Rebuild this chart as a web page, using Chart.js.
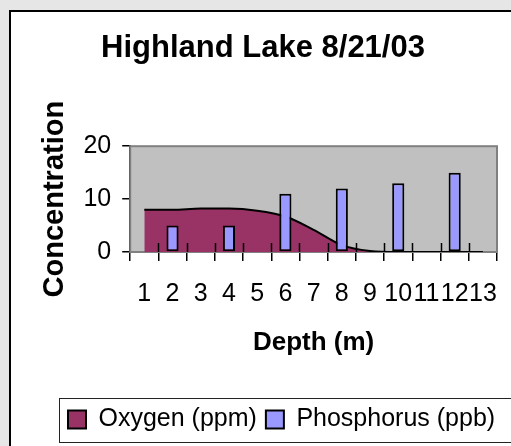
<!DOCTYPE html>
<html>
<head>
<meta charset="utf-8">
<script src="https://cdn.jsdelivr.net/npm/chart.js@4.4.1/dist/chart.umd.min.js"></script>
<style>
  html, body { margin: 0; padding: 0; background: #e6e6e6; overflow: hidden; }
  #frame { position: absolute; left: 9px; top: 10px; width: 520px; height: 450px;
           background: #fff; border-left: 2px solid #000; border-top: 2px solid #000; }
  #wrap { position: absolute; left: 0; top: 0; width: 511px; height: 446px; }
</style>
</head>
<body>
<div id="frame"></div>
<div id="wrap"><canvas id="myChart"></canvas></div>
<script>
/* Data */
var depths = ['1', '2', '3', '4', '5', '6', '7', '8', '9', '10', '11', '12', '13'];
var oxygen = [8, 8, 8.2, 8.2, 7.8, 6.7, 4.2, 1.3, 0.2, 0, 0, 0, 0];
var phosphorus = [null, 5, null, 5, null, 11, null, 12, null, 13, null, 15, null];
var yTicks = [0, 10, 20];

var font = "'Liberation Sans', Arial, sans-serif";
Chart.defaults.font.family = font;
Chart.defaults.color = '#000';

// gray plot background, legend frame, crossing x ticks
var decor = {
    id: 'decor',
    beforeDatasetsDraw: function (chart) {
        var a = chart.chartArea, c = chart.ctx;
        c.save();
        c.fillStyle = '#c0c0c0';
        c.fillRect(a.left, a.top, a.right - a.left, a.bottom - a.top);
        c.strokeStyle = '#808080';
        c.lineWidth = 2;
        c.strokeRect(a.left, a.top, a.right - a.left, a.bottom - a.top);
        c.restore();
    },
    afterDatasetsDraw: function (chart) {
        var x = chart.scales.x, a = chart.chartArea, c = chart.ctx;
        c.save();
        c.strokeStyle = '#000';
        c.lineWidth = 1.5;
        for (var i = 1; i < depths.length; i++) {
            var px = Math.round((x.getPixelForTick(i - 1) + x.getPixelForTick(i)) / 2) + 0.5;
            c.beginPath();
            c.moveTo(px, a.bottom - 9);
            c.lineTo(px, a.bottom);
            c.stroke();
        }
        c.restore();
    },
    afterLayout: function (chart) {
        var lg = chart.legend;
        lg.left = 59;
        lg.right = 59 + lg.width;
    },
    afterDraw: function (chart) {
        var lg = chart.legend, c = chart.ctx;
        c.save();
        c.strokeStyle = '#222';
        c.lineWidth = 1;
        c.strokeRect(59.5, lg.top + 0.5, 480, 44);
        c.restore();
    }
};

const ctx = document.getElementById('myChart');
var myChart = new Chart(ctx, {
    data: {
        labels: depths,
        datasets: [{
            type: 'bar',
            label: 'Phosphorus (ppb)',
            data: phosphorus,
            backgroundColor: '#9999ff',
            borderColor: '#000',
            borderWidth: 2,
            borderSkipped: false,
            categoryPercentage: 1,
            barPercentage: 0.43,
            order: 1
        }, {
            type: 'line',
            label: 'Oxygen (ppm)',
            data: oxygen,
            fill: 'origin',
            backgroundColor: '#993366',
            borderColor: '#000',
            borderWidth: 2,
            pointRadius: 0,
            cubicInterpolationMode: 'monotone',
            order: 2
        }]
    },
    options: {
        responsive: true,
        maintainAspectRatio: false,
        animation: false,
        layout: { padding: { left: 29, right: 14, top: 10, bottom: 4 } },
        plugins: {
            title: {
                display: true,
                text: 'Highland Lake 8/21/03',
                font: { size: 31, weight: 'bold' },
                padding: { top: 20, bottom: 79 }
            },
            legend: {
                position: 'bottom',
                align: 'start',
                reverse: true,
                labels: { font: { size: 25 }, boxWidth: 18, boxHeight: 18, padding: 9 }
            },
            tooltip: { enabled: false }
        },
        scales: {
            x: {
                grid: { drawOnChartArea: false, tickLength: 9, color: '#000', lineWidth: 1.5 },
                border: { color: '#000', width: 2 },
                ticks: { font: { size: 25, lineHeight: 2.32 }, padding: 4, autoSkip: false, maxRotation: 0, minRotation: 0 },
                title: { display: true, text: 'Depth (m)', font: { size: 26, weight: 'bold' }, padding: { top: 0, bottom: 39.8 } }
            },
            y: {
                min: 0,
                max: 20,
                afterBuildTicks: function (s) { s.ticks = yTicks.map(function (v) { return { value: v }; }); },
                grid: { drawOnChartArea: false, tickLength: 8, color: '#000', lineWidth: 1.5 },
                border: { color: '#000', width: 2 },
                ticks: { font: { size: 25 }, padding: 11 },
                title: { display: true, text: 'Concentration', font: { size: 29, weight: 'bold' }, padding: { top: 8.6, bottom: 0 } }
            }
        }
    },
    plugins: [decor]
});
</script>
</body>
</html>
